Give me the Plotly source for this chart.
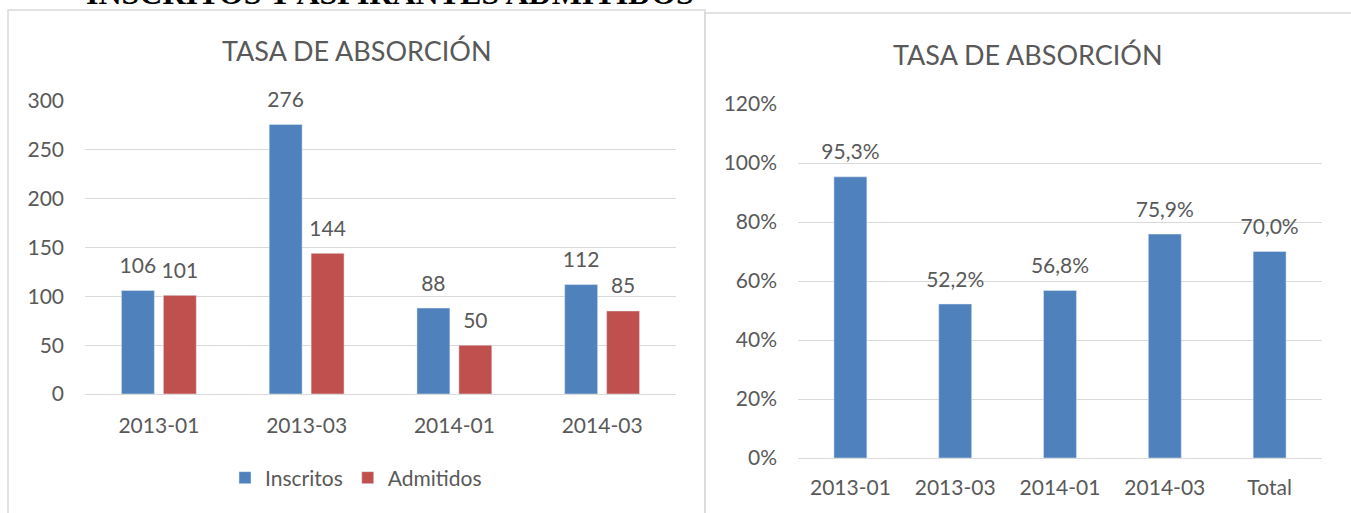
import plotly.graph_objects as go

# ---- data ----
periods = ["2013-01", "2013-03", "2014-01", "2014-03"]
inscritos = [106, 276, 88, 112]
admitidos = [101, 144, 50, 85]

rate_cats = ["2013-01", "2013-03", "2014-01", "2014-03", "Total"]
rate_vals = [0.953, 0.522, 0.568, 0.759, 0.700]
rate_labels = ["95,3%", "52,2%", "56,8%", "75,9%", "70,0%"]

left_ticks = [0, 50, 100, 150, 200, 250, 300]
right_ticks = [0, 0.2, 0.4, 0.6, 0.8, 1.0, 1.2]
right_ticktext = ["0%", "20%", "40%", "60%", "80%", "100%", "120%"]

W, H = 1351, 513
BLUE = "#4F81BD"
RED = "#C0504D"
TXT = "#595959"
GRID = "#D9D9D9"
FONT = "Lato, 'Open Sans', sans-serif"

def px(x):
    return x / W

def py(y):
    return 1 - y / H

fig = go.Figure()

label_font = dict(size=21, color=TXT, family=FONT)
LBL_MARK = 18

# left chart bars
fig.add_trace(go.Bar(
    x=periods, y=inscritos, name="Inscritos", marker_color=BLUE,
    width=33 / 148, offset=-(4.5 + 33) / 148, offsetgroup="a",
    hoverinfo="skip", xaxis="x", yaxis="y",
))
fig.add_trace(go.Bar(
    x=periods, y=admitidos, name="Admitidos", marker_color=RED,
    width=33 / 148, offset=4.5 / 148, offsetgroup="b",
    hoverinfo="skip", xaxis="x", yaxis="y",
))
# left chart data labels (grouped next to bars)
fig.add_trace(go.Scatter(
    x=periods, y=inscritos, mode="markers+text", text=[str(v) for v in inscritos],
    textposition="top center", textfont=label_font,
    marker=dict(size=LBL_MARK, opacity=0), offsetgroup="a", showlegend=False,
    hoverinfo="skip", cliponaxis=False, xaxis="x", yaxis="y",
))
fig.add_trace(go.Scatter(
    x=periods, y=admitidos, mode="markers+text", text=[str(v) for v in admitidos],
    textposition="top center", textfont=label_font,
    marker=dict(size=LBL_MARK, opacity=0), offsetgroup="b", showlegend=False,
    hoverinfo="skip", cliponaxis=False, xaxis="x", yaxis="y",
))

# right chart
fig.add_trace(go.Bar(
    x=rate_cats, y=rate_vals, name="Tasa", marker_color=BLUE,
    width=33 / 105, showlegend=False, hoverinfo="skip",
    xaxis="x2", yaxis="y2",
))
fig.add_trace(go.Scatter(
    x=rate_cats, y=rate_vals, mode="markers+text", text=rate_labels,
    textposition="top center", textfont=label_font,
    marker=dict(size=LBL_MARK, opacity=0), showlegend=False,
    hoverinfo="skip", cliponaxis=False, xaxis="x2", yaxis="y2",
))

axis_font = dict(size=21, color=TXT, family=FONT)

fig.update_layout(
    width=W, height=H,
    margin=dict(l=0, r=0, t=0, b=0, pad=0, autoexpand=False),
    paper_bgcolor="white", plot_bgcolor="white",
    barmode="group",
    scattermode="group", scattergap=0.432,
    font=dict(family=FONT, color=TXT),
    xaxis=dict(domain=[px(85), px(676)], type="category", showgrid=False,
               showline=False, zeroline=False, tickfont=axis_font,
               ticks="", ticklabelstandoff=17, fixedrange=True,
               automargin=False),
    yaxis=dict(domain=[py(394), py(101)], range=[0, 300], tickvals=left_ticks,
               showgrid=True, gridcolor=GRID, gridwidth=1.3,
               zeroline=True, zerolinecolor=GRID, zerolinewidth=1.3,
               showline=False, tickfont=axis_font, ticks="",
               ticklabelstandoff=20, fixedrange=True, automargin=False),
    xaxis2=dict(domain=[px(798), px(1322)], type="category", showgrid=False,
                showline=False, zeroline=False, tickfont=axis_font,
                ticks="", ticklabelstandoff=15, anchor="y2", fixedrange=True,
                automargin=False),
    yaxis2=dict(domain=[py(458), py(104)], range=[0, 1.2],
                tickvals=right_ticks, ticktext=right_ticktext,
                showgrid=True, gridcolor=GRID, gridwidth=1.3,
                zeroline=True, zerolinecolor=GRID, zerolinewidth=1.3,
                showline=False, tickfont=axis_font, ticks="",
                ticklabelstandoff=20, anchor="x2", fixedrange=True,
                automargin=False),
    legend=dict(orientation="h", x=px(356), xanchor="center",
                y=py(478), yanchor="middle", font=axis_font,
                bgcolor="rgba(0,0,0,0)", itemwidth=30, tracegroupgap=0),
    showlegend=True,
)

# panel borders (bottom/right edges run past the picture, as in the reference)
fig.add_shape(type="rect", xref="paper", yref="paper",
              x0=px(8), x1=px(705), y0=-0.02, y1=py(10),
              line=dict(color=GRID, width=1.5), fillcolor="rgba(0,0,0,0)",
              layer="below")
fig.add_shape(type="rect", xref="paper", yref="paper",
              x0=px(705), x1=1.02, y0=-0.02, y1=py(13),
              line=dict(color=GRID, width=1.5), fillcolor="rgba(0,0,0,0)",
              layer="below")

# titles
fig.add_annotation(text="TASA DE ABSORCIÓN", xref="paper", yref="paper",
                   x=px(357), y=py(50), xanchor="center", yanchor="middle",
                   showarrow=False, font=dict(size=27, color=TXT, family=FONT))
fig.add_annotation(text="TASA DE ABSORCIÓN", xref="paper", yref="paper",
                   x=px(1028), y=py(54), xanchor="center", yanchor="middle",
                   showarrow=False, font=dict(size=27, color=TXT, family=FONT))
fig.add_annotation(text="<b>INSCRITOS Y ASPIRANTES ADMITIDOS</b>",
                   xref="paper", yref="paper",
                   x=px(390), y=py(13), xanchor="center", yanchor="bottom",
                   showarrow=False,
                   font=dict(size=32, color="black",
                             family="'Liberation Serif', 'Times New Roman', serif"))

fig.write_html("out.html", config={"displayModeBar": False},
               post_script="document.body.style.margin='0px';")
